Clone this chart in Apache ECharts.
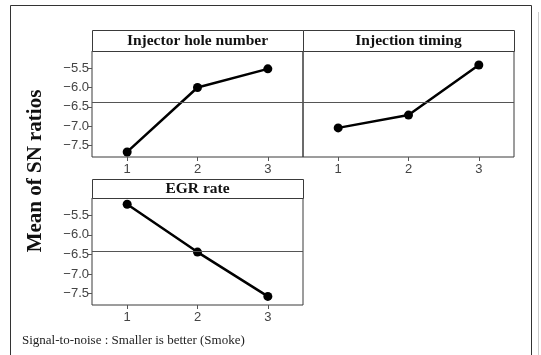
<!DOCTYPE html>
<html><head><meta charset="utf-8">
<script src="https://cdn.jsdelivr.net/npm/echarts@6/dist/echarts.min.js"></script>
<style>html,body{margin:0;padding:0;background:#fff}#c{width:541px;height:355px}</style>
</head><body><div id="c"></div>
<script>
var levels = ['1', '2', '3'];
var panelTitles = ['Injector hole number', 'Injection timing', 'EGR rate'];
var injectorHole = [-7.66, -6.00, -5.52];
var injectionTiming = [-7.04, -6.71, -5.42];
var egrRate = [-5.22, -6.44, -7.57];
var yTicks = [-7.5, -7.0, -6.5, -6.0, -5.5];
var yLabel = 'Mean of SN ratios';
var footer = 'Signal-to-noise : Smaller is better (Smoke)';

var seriesData = [injectorHole, injectionTiming, egrRate];
var grids = [
  {left: 92, top: 51, width: 211, height: 106},
  {left: 303, top: 51, width: 211, height: 106},
  {left: 92, top: 198, width: 211, height: 107}
];
var stripH = [21, 21, 19];
function mean(a){var s=0;for(var i=0;i<a.length;i++)s+=a[i];return s/a.length;}

var chart = echarts.init(document.getElementById('c'));
var option = {
  animation: false,
  grid: grids.map(function(g){return Object.assign({show:true, borderColor:'#3a3a3a', borderWidth:1, backgroundColor:'transparent'}, g);}),
  xAxis: grids.map(function(g,i){return {
    type:'category', gridIndex:i, data:levels, boundaryGap:true,
    axisLine:{show:false}, splitLine:{show:false},
    axisTick:{show:true, alignWithLabel:true, length:4, lineStyle:{color:'#555'}},
    axisLabel:{color:'#444', fontFamily:'Liberation Sans, Arial', fontSize:13, margin:6}
  };}),
  yAxis: grids.map(function(g,i){return {
    type:'value', gridIndex:i, min:-7.79, max:-5.06,
    axisLine:{show:false}, splitLine:{show:false},
    axisTick:{show:i!==1, length:4, lineStyle:{color:'#555'}, customValues: yTicks},
    axisLabel:{show:i!==1, color:'#444', fontFamily:'Liberation Sans, Arial', fontSize:13, margin:3,
      customValues: yTicks, formatter:function(v){return v.toFixed(1).replace('-', '\u2212');}}
  };}),
  series: seriesData.map(function(d,i){return {
    type:'line', xAxisIndex:i, yAxisIndex:i, data:d,
    symbol:'circle', symbolSize:9, itemStyle:{color:'#000'},
    lineStyle:{color:'#000', width:2.5},
    markLine:{silent:true, symbol:'none', label:{show:false},
      lineStyle:{color:'#555', width:1, type:'solid'},
      data:[{yAxis: mean(d)}]}
  };}),
  graphic: [
    {type:'rect', shape:{x:10.5, y:5.5, width:521, height:360}, style:{fill:'none', stroke:'#333', lineWidth:1}},
    {type:'line', shape:{x1:538.5, y1:12, x2:538.5, y2:355}, style:{stroke:'#ccc', lineWidth:1}},
    {type:'text', x:36, y:171, rotation:Math.PI/2, style:{text:yLabel, font:'bold 21px "Liberation Serif", "Times New Roman", serif', fill:'#111', align:'center', verticalAlign:'middle'}},
    {type:'text', x:22, y:341, style:{text:footer, font:'13px "Liberation Serif", "Times New Roman", serif', fill:'#222', align:'left', verticalAlign:'middle'}}
  ].concat(grids.map(function(g,i){return {
    type:'rect', shape:{x:g.left+0.5, y:g.top-stripH[i]+0.5, width:g.width, height:stripH[i]},
    style:{fill:'#fff', stroke:'#3a3a3a', lineWidth:1}
  };})).concat(grids.map(function(g,i){return {
    type:'text', x:g.left+g.width/2, y:g.top-stripH[i]/2+0.5,
    style:{text:panelTitles[i], font:'bold 15.5px "Liberation Serif", "Times New Roman", serif', fill:'#111', align:'center', verticalAlign:'middle'}
  };}))
};
chart.setOption(option);
</script></body></html>
